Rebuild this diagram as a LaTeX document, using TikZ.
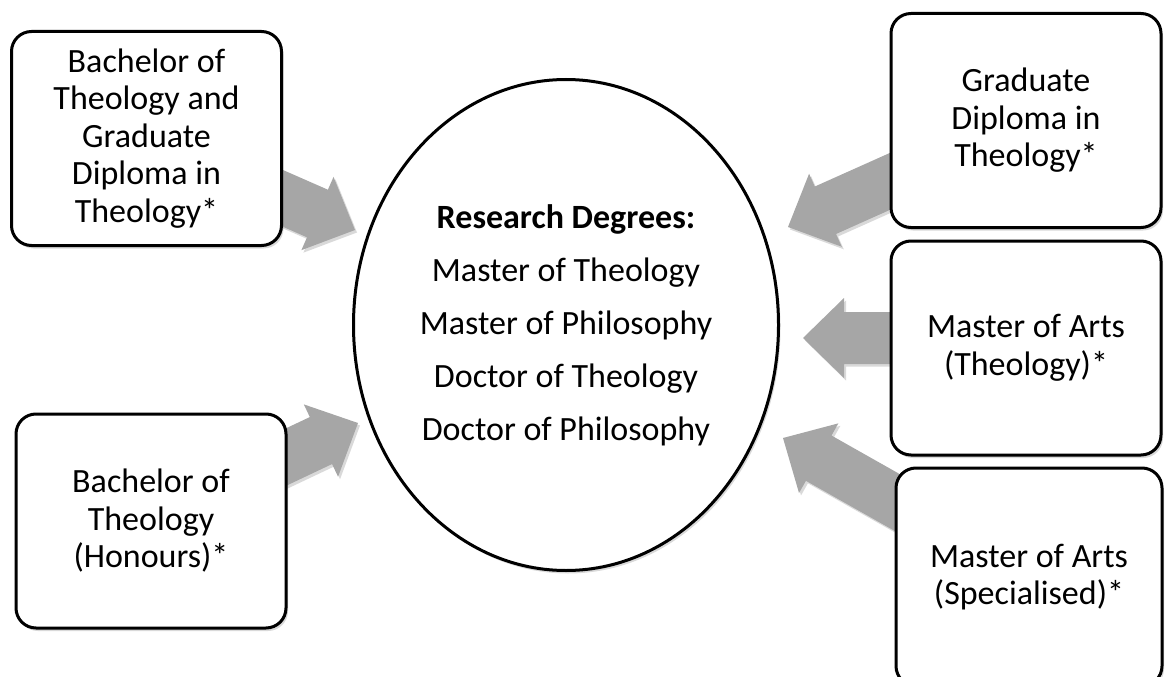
\documentclass[tikz,border=0pt]{standalone}
\usepackage{fontspec}
\setmainfont{Carlito}
\usetikzlibrary{shapes.geometric,calc,shadows}
\definecolor{arrowgray}{RGB}{166,166,166}
\pgfdeclarelayer{bg}
\pgfsetlayers{bg,main}
% #1 options, #2 name, #3 start, #4 tip
\newcommand\blockarrow[4]{%
  \coordinate (#2b) at ($(#4)!41pt!(#3)$);
  \path[#1] ($(#3)!26pt!90:(#4)$) -- ($(#2b)!26pt!90:(#4)$) -- ($(#2b)!40pt!90:(#4)$)
    -- (#4) -- ($(#2b)!40pt!-90:(#4)$) -- ($(#2b)!26pt!-90:(#4)$) -- ($(#3)!26pt!-90:(#4)$) -- cycle;
}
\tikzset{
  box/.style={draw, line width=3pt, rounded corners=20pt, fill=white, align=center,
    minimum width=270pt, minimum height=214pt, inner sep=0pt,
    font=\fontsize{34}{37.5}\selectfont,
    drop shadow={shadow xshift=2pt, shadow yshift=-3pt, opacity=0.3}},
  degrees/.style={ellipse, draw, line width=3pt, fill=white, minimum width=425pt,
    minimum height=491pt, inner sep=0pt, align=center,
    font=\fontsize{34}{53}\selectfont,
    drop shadow={shadow xshift=2pt, shadow yshift=-3pt, opacity=0.3}},
  arrowfill/.style={fill=arrowgray},
  arrowshadow/.style={fill=black, opacity=0.15}
}
\begin{document}
\begin{tikzpicture}[x=1pt,y=-1pt]
\useasboundingbox (0,0) rectangle (1165,677);
\node[box] (b1) at (146.5,138.5) {Bachelor of\\Theology and\\Graduate\\Diploma in\\Theology*};
\node[box] (b2) at (1026,120.5) {Graduate\\Diploma in\\Theology*};
\node[box] (b3) at (1026,348) {Master of Arts\\(Theology)*};
\node[box, minimum width=266pt, minimum height=218pt] (b4) at (1029,577) {Master of Arts\\(Specialised)*};
\node[box] (b5) at (151,521) {Bachelor of\\Theology\\(Honours)*};
\node[degrees] (el) at (566,325) {\textbf{Research Degrees:}\\Master of Theology\\Master of Philosophy\\Doctor of Theology\\Doctor of Philosophy};
\coordinate (t1) at (355,230);
\coordinate (t2) at (358,423);
\coordinate (t3) at (788,227);
\coordinate (t4) at (803,338);
\coordinate (s4) at (b3.center |- t4);
\coordinate (t5) at (783,438);
\begin{pgfonlayer}{bg}
  \begin{scope}[transform canvas={shift={(2pt,-2.5pt)}}]
    \blockarrow{arrowshadow}{a1}{b1.center}{t1}
    \blockarrow{arrowshadow}{a2}{b5.center}{t2}
    \blockarrow{arrowshadow}{a3}{b2.center}{t3}
    \blockarrow{arrowshadow}{a4}{s4}{t4}
    \blockarrow{arrowshadow}{a5}{b4.center}{t5}
  \end{scope}
  \blockarrow{arrowfill}{a1}{b1.center}{t1}
  \blockarrow{arrowfill}{a2}{b5.center}{t2}
  \blockarrow{arrowfill}{a3}{b2.center}{t3}
  \blockarrow{arrowfill}{a4}{s4}{t4}
  \blockarrow{arrowfill}{a5}{b4.center}{t5}
\end{pgfonlayer}
\end{tikzpicture}
\end{document}
